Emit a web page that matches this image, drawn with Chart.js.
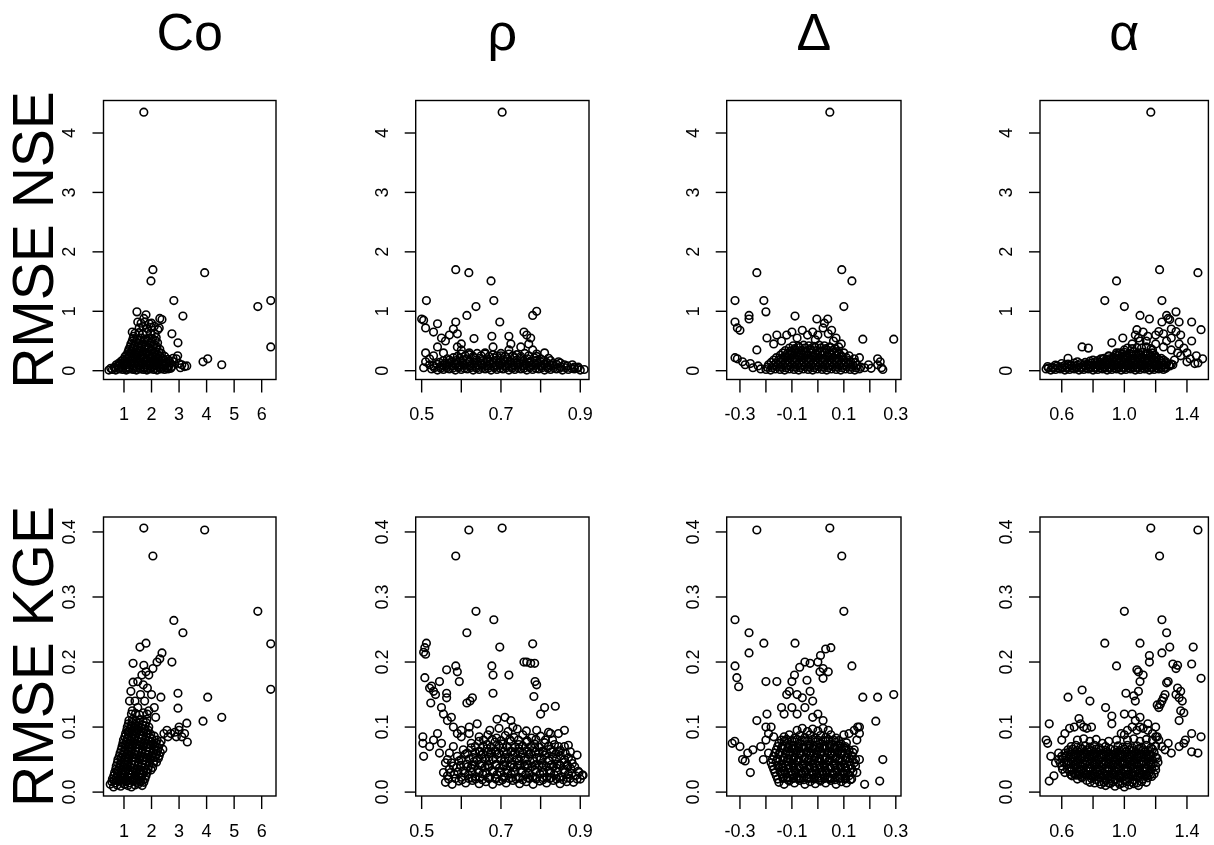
<!DOCTYPE html>
<html>
<head>
<meta charset="utf-8">
<script src="https://cdn.jsdelivr.net/npm/chart.js@4.4.1/dist/chart.umd.min.js"></script>
<style>
  html, body { margin: 0; padding: 0; background: #fff; }
  #wrap { position: relative; width: 1214px; height: 845px; overflow: hidden; }
  #wrap canvas { position: absolute; left: 0; top: 0; }
</style>
</head>
<body>
<div id="wrap"></div>
<script>
// Titles and tick labels
const columnTitles = ['Co', 'ρ', 'Δ', 'α'];
const rowTitles = ['RMSE NSE', 'RMSE KGE'];

const coTicks = [1, 2, 3, 4, 5, 6];
const coLabels = ['1', '2', '3', '4', '5', '6'];
const rhoTicks = [0.5, 0.6, 0.7, 0.8, 0.9];
const rhoLabels = ['0.5', '', '0.7', '', '0.9'];
const deltaTicks = [-0.3, -0.2, -0.1, 0, 0.1, 0.2, 0.3];
const deltaLabels = ['-0.3', '', '-0.1', '', '0.1', '', '0.3'];
const alphaTicks = [0.6, 0.8, 1.0, 1.2, 1.4];
const alphaLabels = ['0.6', '', '1.0', '', '1.4'];
const nseTicks = [0, 1, 2, 3, 4];
const nseLabels = ['0', '1', '2', '3', '4'];
const kgeTicks = [0, 0.1, 0.2, 0.3, 0.4];
const kgeLabels = ['0.0', '0.1', '0.2', '0.3', '0.4'];

// Points: [x, y]
const coNse = [
  [1.72,4.35],[2.05,1.70],[1.98,1.51],[3.93,1.65],[2.81,1.18],[3.14,0.92],[5.86,1.08],[6.33,1.18],[6.33,0.40],
  [2.74,0.62],[2.96,0.47],[3.87,0.15],[4.04,0.20],[4.55,0.10],[3.28,0.08],[3.2,0.07],[3.1,0.1],[2.74,0.07],
  [2.9,0.2],[2.95,0.25],[1.47,0.99],[1.8,0.94],[2.38,0.86],[2.3,0.88],[1.5,0.82],[2.23,0.69],[1.3,0.65],
  [1.35,0.58],[2.0,0.8],[2.1,0.75],[3.0,0.12],[2.8,0.15],[3.05,0.05],
  [0.45,0.01],[0.58,0.02],[0.7,0.01],[0.83,0.03],[0.95,0.02],[1.08,0.01],[1.2,0.03],[1.33,0.02],[1.45,0.01],
  [1.58,0.03],[1.7,0.02],[1.83,0.01],[1.95,0.03],[2.08,0.02],[2.2,0.01],[2.33,0.03],[2.47,0.02],[2.6,0.03],
  [0.52,0.04],[0.66,0.05],[0.8,0.04],[0.93,0.05],[1.06,0.04],[1.2,0.05],[1.33,0.04],[1.47,0.05],[1.6,0.04],
  [1.74,0.05],[1.87,0.04],[2.01,0.05],[2.14,0.04],[2.28,0.05],[2.41,0.04],[2.55,0.05],[2.7,0.04],
  [0.65,0.06],[0.78,0.08],[0.92,0.07],[1.05,0.09],[1.18,0.06],[1.32,0.08],[1.46,0.07],[1.6,0.09],[1.74,0.06],
  [1.88,0.08],[2.02,0.07],[2.16,0.09],[2.3,0.06],[2.45,0.08],[2.62,0.07],
  [0.72,0.1],[0.86,0.11],[0.99,0.1],[1.13,0.11],[1.26,0.1],[1.4,0.11],[1.53,0.1],[1.67,0.11],[1.81,0.1],
  [1.95,0.11],[2.09,0.1],[2.23,0.11],[2.37,0.1],[2.53,0.11],
  [0.82,0.13],[0.96,0.12],[1.1,0.14],[1.24,0.12],[1.38,0.14],[1.52,0.13],[1.66,0.12],[1.8,0.14],[1.94,0.12],
  [2.08,0.14],[2.22,0.13],[2.36,0.12],[2.52,0.14],[2.68,0.13],
  [0.9,0.16],[1.04,0.17],[1.18,0.16],[1.32,0.17],[1.46,0.16],[1.6,0.17],[1.74,0.16],[1.88,0.17],[2.02,0.16],
  [2.16,0.17],[2.3,0.16],[2.46,0.17],[2.64,0.16],
  [0.98,0.19],[1.12,0.21],[1.27,0.2],[1.41,0.22],[1.55,0.19],[1.69,0.21],[1.83,0.2],[1.97,0.22],[2.11,0.19],
  [2.26,0.21],[2.42,0.2],[2.6,0.19],[2.78,0.21],
  [1.04,0.24],[1.18,0.25],[1.32,0.23],[1.46,0.25],[1.6,0.24],[1.74,0.23],[1.88,0.25],[2.02,0.24],[2.16,0.23],
  [2.3,0.25],[2.48,0.24],
  [1.1,0.27],[1.24,0.29],[1.38,0.28],[1.52,0.3],[1.66,0.27],[1.8,0.29],[1.94,0.28],[2.08,0.3],[2.22,0.27],[2.36,0.29],
  [1.15,0.32],[1.29,0.33],[1.43,0.31],[1.57,0.33],[1.71,0.32],[1.85,0.31],[1.99,0.33],[2.13,0.32],[2.27,0.31],
  [1.18,0.36],[1.32,0.37],[1.46,0.35],[1.6,0.38],[1.74,0.36],[1.88,0.37],[2.02,0.35],[2.16,0.38],[2.3,0.36],
  [1.22,0.4],[1.36,0.41],[1.5,0.39],[1.64,0.41],[1.78,0.4],[1.92,0.39],[2.06,0.41],[2.2,0.4],
  [1.25,0.45],[1.39,0.44],[1.53,0.46],[1.67,0.45],[1.81,0.43],[1.95,0.46],[2.09,0.44],[2.22,0.47],
  [1.3,0.5],[1.44,0.49],[1.58,0.51],[1.72,0.49],[1.86,0.5],[2.0,0.49],[2.14,0.51],
  [1.33,0.54],[1.47,0.53],[1.61,0.55],[1.75,0.52],[1.89,0.55],[2.03,0.54],[2.17,0.56],
  [1.4,0.63],[1.54,0.64],[1.68,0.62],[1.82,0.65],[1.96,0.63],[2.12,0.62],
  [1.55,0.72],[1.69,0.74],[1.84,0.71],[1.99,0.73],[2.28,0.72],
  [1.62,0.8],[1.76,0.82],[1.92,0.79],[1.72,0.88]
];

const coKge = [
  [1.72,0.406],[3.93,0.403],[2.05,0.363],[5.86,0.278],[2.81,0.264],[3.14,0.245],[6.33,0.228],[6.33,0.158],
  [2.74,0.2],[2.96,0.152],[2.96,0.129],[4.04,0.146],[3.87,0.109],[4.55,0.115],[3.3,0.077],[3.28,0.106],
  [3.2,0.09],[3.1,0.085],[1.58,0.223],[1.8,0.229],[2.38,0.214],[2.3,0.205],[1.33,0.198],[1.72,0.195],
  [1.8,0.185],[1.9,0.18],[2.05,0.19],[2.2,0.2],[1.33,0.169],[1.5,0.17],[1.7,0.165],[1.6,0.15],[1.75,0.14],
  [1.4,0.14],[2.34,0.146],[2.0,0.15],[1.3,0.125],[1.5,0.13],[1.9,0.125],[2.1,0.13],[2.56,0.095],[2.7,0.09],
  [2.85,0.092],[3.0,0.1],[2.6,0.085],[2.9,0.085],[3.0,0.095],[2.41,0.066],[1.85,0.16],[1.65,0.18],[1.2,0.14],
  [1.25,0.155],[2.15,0.115],[2.45,0.09],
  [0.5,0.012],[0.62,0.008],[0.75,0.011],[0.88,0.009],[1.01,0.012],[1.14,0.01],[1.27,0.008],[1.4,0.011],[1.53,0.013],[1.66,0.01],
  [0.56,0.016],[0.69,0.014],[0.82,0.017],[0.95,0.015],[1.08,0.016],[1.21,0.014],[1.34,0.017],[1.47,0.015],[1.6,0.016],[1.72,0.015],
  [0.635,0.018],[0.765,0.019],[0.895,0.018],[1.025,0.019],[1.155,0.018],[1.285,0.019],[1.415,0.018],[1.545,0.019],[1.675,0.018],
  [0.58,0.02],[0.71,0.022],[0.84,0.019],[0.97,0.021],[1.1,0.018],[1.23,0.022],[1.36,0.02],[1.49,0.019],[1.62,0.022],[1.76,0.02],
  [0.63,0.025],[0.76,0.027],[0.89,0.024],[1.02,0.026],[1.15,0.023],[1.28,0.027],[1.41,0.025],[1.54,0.024],[1.67,0.027],[1.8,0.025],
  [0.66,0.03],[0.79,0.032],[0.92,0.029],[1.05,0.031],[1.18,0.028],[1.31,0.032],[1.44,0.03],[1.57,0.029],[1.7,0.032],[1.84,0.03],
  [0.765,0.033],[0.895,0.033],[1.025,0.033],[1.155,0.033],[1.285,0.033],[1.415,0.033],[1.545,0.033],[1.675,0.033],[1.805,0.033],
  [0.7,0.035],[0.83,0.037],[0.96,0.034],[1.09,0.036],[1.22,0.033],[1.35,0.037],[1.48,0.035],[1.61,0.034],[1.74,0.037],[1.87,0.035],[1.98,0.034],
  [0.72,0.04],[0.85,0.042],[0.98,0.039],[1.11,0.041],[1.24,0.038],[1.37,0.042],[1.5,0.04],[1.63,0.039],[1.76,0.042],[1.9,0.04],[2.04,0.038],
  [0.76,0.045],[0.89,0.047],[1.02,0.044],[1.15,0.046],[1.28,0.043],[1.41,0.047],[1.54,0.045],[1.67,0.044],[1.8,0.047],[1.93,0.045],[2.07,0.044],[2.18,0.046],
  [0.78,0.05],[0.91,0.052],[1.04,0.049],[1.17,0.051],[1.3,0.048],[1.43,0.052],[1.56,0.05],[1.69,0.049],[1.82,0.052],[1.96,0.05],[2.1,0.048],[2.25,0.052],
  [0.895,0.053],[1.025,0.053],[1.155,0.053],[1.285,0.053],[1.415,0.053],[1.545,0.053],[1.675,0.053],[1.805,0.053],[1.935,0.053],[2.065,0.053],
  [0.83,0.055],[0.96,0.057],[1.09,0.054],[1.22,0.056],[1.35,0.053],[1.48,0.057],[1.61,0.055],[1.74,0.054],[1.87,0.057],[2.0,0.055],[2.14,0.054],[2.28,0.056],
  [0.86,0.06],[0.99,0.062],[1.12,0.059],[1.25,0.061],[1.38,0.058],[1.51,0.062],[1.64,0.06],[1.77,0.059],[1.9,0.062],[2.04,0.06],[2.18,0.058],[2.32,0.061],
  [0.9,0.065],[1.03,0.067],[1.16,0.064],[1.29,0.066],[1.42,0.063],[1.55,0.067],[1.68,0.065],[1.81,0.064],[1.94,0.067],[2.08,0.065],[2.22,0.064],
  [0.93,0.07],[1.06,0.072],[1.19,0.069],[1.32,0.071],[1.45,0.068],[1.58,0.072],[1.71,0.07],[1.84,0.069],[1.97,0.072],[2.11,0.07],[2.25,0.068],
  [1.025,0.073],[1.155,0.073],[1.285,0.073],[1.415,0.073],[1.545,0.073],[1.675,0.073],[1.805,0.073],[1.935,0.073],[2.065,0.073],
  [0.96,0.075],[1.09,0.077],[1.22,0.074],[1.35,0.076],[1.48,0.073],[1.61,0.077],[1.74,0.075],[1.87,0.074],[2.0,0.077],[2.16,0.075],[2.3,0.074],
  [0.98,0.08],[1.11,0.082],[1.24,0.079],[1.37,0.081],[1.5,0.078],[1.63,0.082],[1.76,0.08],[1.89,0.079],[2.02,0.082],[2.2,0.08],[2.35,0.078],
  [1.03,0.085],[1.16,0.087],[1.29,0.084],[1.42,0.086],[1.55,0.083],[1.68,0.087],[1.81,0.085],[1.94,0.084],[2.1,0.086],
  [1.06,0.09],[1.19,0.092],[1.32,0.089],[1.45,0.091],[1.58,0.088],[1.71,0.092],[1.84,0.09],[1.97,0.089],
  [1.155,0.093],[1.285,0.093],[1.415,0.093],[1.545,0.093],[1.675,0.093],[1.805,0.093],
  [1.1,0.095],[1.23,0.097],[1.36,0.094],[1.49,0.096],[1.62,0.093],[1.75,0.097],[1.88,0.095],
  [1.12,0.1],[1.25,0.102],[1.38,0.099],[1.51,0.101],[1.64,0.098],[1.77,0.102],[1.9,0.1],
  [1.16,0.105],[1.29,0.107],[1.42,0.104],[1.55,0.106],[1.68,0.103],[1.8,0.107],
  [1.18,0.11],[1.31,0.112],[1.44,0.109],[1.57,0.111],[1.7,0.108],[1.83,0.112],
  [1.27,0.12],[1.42,0.121],[1.56,0.119],[1.7,0.122],[1.84,0.12]
];

const rhoNse = [
  [0.703,4.35],[0.586,1.70],[0.619,1.65],[0.675,1.51],[0.512,1.18],[0.682,1.18],[0.637,1.08],[0.614,0.93],
  [0.697,0.82],[0.79,1.0],[0.78,0.93],[0.5,0.87],[0.505,0.85],[0.54,0.79],[0.586,0.82],[0.51,0.72],[0.53,0.65],
  [0.55,0.55],[0.56,0.5],[0.52,0.2],[0.51,0.15],[0.505,0.05],[0.51,0.3],[0.58,0.7],[0.59,0.62],[0.57,0.6],
  [0.6,0.45],[0.6,0.35],[0.632,0.54],[0.677,0.58],[0.72,0.58],[0.725,0.45],[0.72,0.35],[0.758,0.65],[0.765,0.6],
  [0.775,0.55],[0.77,0.45],[0.75,0.4],[0.78,0.35],[0.59,0.4],[0.62,0.3],[0.66,0.3],[0.68,0.4],[0.7,0.25],
  [0.52,0.1],[0.53,0.25],[0.54,0.4],[0.555,0.3],
  [0.525,0.03],[0.54,0.01],[0.555,0.02],[0.57,0.03],[0.585,0.01],[0.6,0.02],[0.615,0.03],[0.63,0.01],[0.645,0.02],
  [0.66,0.03],[0.675,0.01],[0.69,0.02],[0.705,0.03],[0.72,0.01],[0.735,0.02],[0.75,0.03],[0.765,0.01],[0.78,0.02],
  [0.795,0.03],[0.81,0.01],[0.825,0.02],[0.84,0.03],[0.855,0.01],[0.87,0.02],[0.885,0.03],[0.9,0.01],
  [0.532,0.05],[0.548,0.04],[0.563,0.05],[0.578,0.04],[0.593,0.05],[0.608,0.04],[0.623,0.05],[0.638,0.04],[0.653,0.05],
  [0.668,0.04],[0.683,0.05],[0.698,0.04],[0.713,0.05],[0.728,0.04],[0.743,0.05],[0.758,0.04],[0.773,0.05],[0.788,0.04],
  [0.803,0.05],[0.818,0.04],[0.833,0.05],[0.848,0.04],[0.863,0.05],[0.878,0.04],[0.893,0.04],
  [0.53,0.08],[0.547,0.07],[0.562,0.09],[0.577,0.08],[0.592,0.07],[0.607,0.09],[0.622,0.08],[0.637,0.07],[0.652,0.09],
  [0.667,0.08],[0.682,0.07],[0.697,0.09],[0.712,0.08],[0.727,0.07],[0.742,0.09],[0.757,0.08],[0.772,0.07],[0.787,0.09],
  [0.802,0.08],[0.817,0.07],[0.832,0.09],[0.85,0.07],[0.868,0.08],[0.885,0.06],
  [0.538,0.11],[0.553,0.1],[0.568,0.12],[0.583,0.11],[0.598,0.1],[0.613,0.12],[0.628,0.11],[0.643,0.1],[0.658,0.12],
  [0.673,0.11],[0.688,0.1],[0.703,0.12],[0.718,0.11],[0.733,0.1],[0.748,0.12],[0.763,0.11],[0.778,0.1],[0.793,0.12],
  [0.808,0.11],[0.823,0.1],[0.84,0.11],
  [0.545,0.14],[0.56,0.13],[0.575,0.15],[0.59,0.14],[0.605,0.13],[0.62,0.15],[0.635,0.14],[0.65,0.13],[0.665,0.15],
  [0.68,0.14],[0.695,0.13],[0.71,0.15],[0.725,0.14],[0.74,0.13],[0.755,0.15],[0.77,0.14],[0.785,0.13],[0.8,0.15],
  [0.815,0.14],[0.83,0.12],[0.85,0.13],
  [0.555,0.17],[0.57,0.18],[0.587,0.17],[0.604,0.18],[0.621,0.16],[0.638,0.18],[0.655,0.17],[0.672,0.16],[0.689,0.18],
  [0.706,0.17],[0.723,0.16],[0.74,0.18],[0.757,0.17],[0.774,0.16],[0.791,0.18],[0.808,0.17],[0.825,0.17],
  [0.565,0.2],[0.58,0.22],[0.597,0.21],[0.614,0.2],[0.631,0.22],[0.648,0.21],[0.665,0.2],[0.682,0.22],[0.699,0.21],
  [0.716,0.2],[0.733,0.22],[0.75,0.21],[0.767,0.2],[0.784,0.22],[0.8,0.2],[0.82,0.21],
  [0.59,0.24],[0.61,0.25],[0.63,0.24],[0.65,0.25],[0.67,0.24],[0.69,0.25],[0.71,0.24],[0.73,0.25],[0.75,0.24],[0.77,0.25],[0.79,0.24],
  [0.6,0.28],[0.62,0.27],[0.64,0.29],[0.66,0.28],[0.68,0.27],[0.7,0.29],[0.72,0.28],[0.74,0.27],[0.76,0.29],[0.79,0.28],[0.81,0.3],
  [0.91,0.02],[0.895,0.06],[0.88,0.1],[0.86,0.1],[0.845,0.15]
];

const rhoKge = [
  [0.703,0.406],[0.619,0.403],[0.586,0.363],[0.637,0.278],[0.682,0.265],[0.614,0.245],[0.78,0.228],[0.697,0.223],
  [0.512,0.229],[0.508,0.222],[0.505,0.215],[0.51,0.212],[0.677,0.194],[0.68,0.18],[0.72,0.18],[0.758,0.2],
  [0.765,0.2],[0.775,0.198],[0.785,0.198],[0.786,0.17],[0.79,0.165],[0.783,0.147],[0.68,0.152],[0.81,0.13],
  [0.8,0.12],[0.837,0.132],[0.586,0.194],[0.59,0.185],[0.595,0.17],[0.563,0.188],[0.545,0.17],[0.508,0.176],
  [0.52,0.16],[0.53,0.155],[0.535,0.15],[0.525,0.163],[0.523,0.137],[0.563,0.152],[0.563,0.145],[0.614,0.137],
  [0.622,0.14],[0.628,0.145],[0.55,0.13],[0.555,0.12],[0.565,0.11],[0.575,0.115],[0.58,0.1],[0.6,0.095],[0.62,0.1],
  [0.64,0.105],[0.69,0.112],[0.71,0.115],[0.725,0.11],[0.73,0.1],[0.503,0.085],[0.503,0.075],[0.505,0.055],
  [0.52,0.07],[0.53,0.08],[0.54,0.09],[0.545,0.06],[0.55,0.075],[0.892,0.057],[0.907,0.026],[0.87,0.072],
  [0.845,0.09],[0.86,0.095],[0.82,0.092],[0.83,0.08],
  [0.56,0.015],[0.577,0.012],[0.594,0.017],[0.611,0.014],[0.628,0.018],[0.645,0.013],[0.662,0.016],[0.679,0.012],
  [0.696,0.017],[0.713,0.014],[0.73,0.018],[0.747,0.013],[0.764,0.016],[0.781,0.012],[0.798,0.017],[0.815,0.014],
  [0.832,0.018],[0.849,0.013],[0.866,0.016],[0.883,0.015],[0.9,0.02],
  [0.568,0.02],[0.585,0.021],[0.602,0.019],[0.619,0.021],[0.636,0.02],[0.653,0.019],[0.67,0.021],[0.687,0.02],
  [0.704,0.019],[0.721,0.021],[0.738,0.02],[0.755,0.019],[0.772,0.021],[0.789,0.02],[0.806,0.019],[0.823,0.021],
  [0.84,0.02],[0.857,0.019],[0.874,0.021],[0.892,0.02],
  [0.627,0.022],[0.647,0.022],[0.667,0.022],[0.687,0.022],[0.707,0.022],[0.727,0.022],[0.747,0.022],[0.767,0.022],
  [0.787,0.022],[0.807,0.022],[0.827,0.022],[0.847,0.022],[0.867,0.022],
  [0.565,0.025],[0.582,0.028],[0.6,0.023],[0.618,0.027],[0.636,0.024],[0.654,0.028],[0.672,0.023],[0.69,0.027],
  [0.708,0.024],[0.726,0.028],[0.744,0.023],[0.762,0.027],[0.78,0.024],[0.798,0.028],[0.816,0.023],[0.834,0.027],
  [0.852,0.024],[0.87,0.028],[0.888,0.025],[0.905,0.026],
  [0.573,0.03],[0.591,0.031],[0.609,0.029],[0.627,0.031],[0.645,0.03],[0.663,0.029],[0.681,0.031],[0.699,0.03],
  [0.717,0.029],[0.735,0.031],[0.753,0.03],[0.771,0.029],[0.789,0.031],[0.807,0.03],[0.825,0.029],[0.843,0.031],
  [0.861,0.03],[0.879,0.029],[0.897,0.03],
  [0.57,0.035],[0.588,0.038],[0.606,0.033],[0.624,0.037],[0.642,0.034],[0.66,0.038],[0.678,0.033],[0.696,0.037],
  [0.714,0.034],[0.732,0.038],[0.75,0.033],[0.768,0.037],[0.786,0.034],[0.804,0.038],[0.822,0.033],[0.84,0.037],
  [0.858,0.034],[0.876,0.036],[0.895,0.032],
  [0.58,0.04],[0.598,0.041],[0.616,0.039],[0.634,0.041],[0.652,0.04],[0.67,0.039],[0.688,0.041],[0.706,0.04],
  [0.724,0.039],[0.742,0.041],[0.76,0.04],[0.778,0.039],[0.796,0.041],[0.814,0.04],[0.832,0.039],[0.85,0.041],
  [0.868,0.04],[0.886,0.039],
  [0.627,0.042],[0.647,0.042],[0.667,0.042],[0.687,0.042],[0.707,0.042],[0.727,0.042],[0.747,0.042],[0.767,0.042],
  [0.787,0.042],[0.807,0.042],[0.827,0.042],[0.847,0.042],[0.867,0.042],
  [0.575,0.045],[0.594,0.048],[0.613,0.043],[0.632,0.047],[0.651,0.044],[0.67,0.048],[0.689,0.043],[0.708,0.047],
  [0.727,0.044],[0.746,0.048],[0.765,0.043],[0.784,0.047],[0.803,0.044],[0.822,0.048],[0.841,0.043],[0.86,0.046],[0.88,0.044],
  [0.6,0.05],[0.62,0.051],[0.64,0.049],[0.66,0.051],[0.68,0.05],[0.7,0.049],[0.72,0.051],[0.74,0.05],[0.76,0.049],
  [0.78,0.051],[0.8,0.05],[0.82,0.049],[0.84,0.051],[0.86,0.05],[0.878,0.049],
  [0.59,0.055],[0.61,0.058],[0.63,0.053],[0.65,0.057],[0.67,0.054],[0.69,0.058],[0.71,0.053],[0.73,0.057],
  [0.75,0.054],[0.77,0.058],[0.79,0.053],[0.81,0.057],[0.83,0.054],[0.85,0.056],[0.87,0.053],
  [0.615,0.06],[0.635,0.061],[0.655,0.059],[0.675,0.061],[0.695,0.06],[0.715,0.059],[0.735,0.061],[0.755,0.06],
  [0.775,0.059],[0.795,0.061],[0.815,0.06],[0.838,0.059],[0.862,0.06],
  [0.647,0.062],[0.667,0.062],[0.687,0.062],[0.707,0.062],[0.727,0.062],[0.747,0.062],[0.767,0.062],[0.787,0.062],
  [0.807,0.062],[0.827,0.062],[0.847,0.062],
  [0.605,0.065],[0.625,0.068],[0.645,0.063],[0.665,0.067],[0.685,0.064],[0.705,0.068],[0.725,0.063],[0.745,0.067],
  [0.765,0.064],[0.785,0.068],[0.805,0.063],[0.825,0.066],[0.85,0.064],[0.875,0.062],
  [0.635,0.07],[0.655,0.071],[0.675,0.069],[0.695,0.071],[0.715,0.07],[0.735,0.069],[0.755,0.071],[0.775,0.07],
  [0.797,0.069],[0.82,0.071],[0.845,0.07],
  [0.625,0.075],[0.645,0.078],[0.665,0.073],[0.685,0.077],[0.705,0.074],[0.725,0.078],[0.745,0.073],[0.765,0.077],
  [0.785,0.074],[0.81,0.076],[0.835,0.073],[0.86,0.07],
  [0.656,0.08],[0.678,0.081],[0.7,0.079],[0.722,0.081],[0.744,0.08],[0.766,0.079],[0.788,0.081],[0.812,0.08],
  [0.645,0.085],[0.667,0.088],[0.689,0.083],[0.711,0.087],[0.733,0.084],[0.755,0.088],[0.777,0.083],[0.8,0.086],[0.825,0.09],
  [0.672,0.095],[0.695,0.098],[0.718,0.093],[0.741,0.097],[0.764,0.094],[0.79,0.095],
  [0.56,0.045],[0.565,0.05],[0.555,0.03],[0.57,0.06],[0.58,0.07],[0.6,0.085],[0.59,0.09],[0.62,0.09]
];

const deltaNse = [
  [0.046,4.35],[-0.235,1.65],[0.092,1.70],[0.131,1.51],[-0.319,1.18],[-0.208,1.18],[-0.2,0.99],[0.1,1.08],
  [-0.265,0.93],[-0.265,0.87],[-0.088,0.92],[-0.319,0.82],[-0.31,0.72],[-0.3,0.68],[0.173,0.53],[0.292,0.53],
  [-0.235,0.35],[-0.004,0.87],[0.038,0.87],[0.025,0.8],[0.053,0.68],[-0.196,0.55],[-0.158,0.6],[-0.12,0.6],
  [-0.1,0.65],[-0.08,0.55],[-0.06,0.68],[-0.04,0.6],[-0.02,0.65],[0.0,0.6],[0.06,0.5],[0.08,0.4],[0.1,0.3],
  [0.12,0.25],[0.14,0.2],[0.16,0.22],[-0.319,0.22],[-0.31,0.2],[-0.29,0.15],[-0.28,0.1],[-0.26,0.12],[-0.25,0.05],
  [-0.23,0.08],[-0.22,0.03],[0.23,0.2],[0.24,0.15],[0.245,0.05],[0.25,0.02],[0.23,0.1],[0.18,0.05],[0.07,0.55],
  [0.09,0.45],[-0.14,0.5],[-0.17,0.45],[0.02,0.72],[0.04,0.62],[-0.01,0.52],[0.195,0.1],[0.205,0.04],
  [-0.2,0.02],[-0.182,0.01],[-0.164,0.03],[-0.146,0.02],[-0.128,0.01],[-0.11,0.03],[-0.092,0.02],[-0.074,0.01],
  [-0.056,0.03],[-0.038,0.02],[-0.02,0.01],[-0.002,0.03],[0.016,0.02],[0.034,0.01],[0.052,0.03],[0.07,0.02],
  [0.088,0.01],[0.106,0.03],[0.124,0.02],[0.142,0.01],[0.16,0.03],
  [-0.195,0.06],[-0.177,0.05],[-0.159,0.07],[-0.141,0.06],[-0.123,0.05],[-0.105,0.07],[-0.087,0.06],[-0.069,0.05],
  [-0.051,0.07],[-0.033,0.06],[-0.015,0.05],[0.003,0.07],[0.021,0.06],[0.039,0.05],[0.057,0.07],[0.075,0.06],
  [0.093,0.05],[0.111,0.07],[0.129,0.06],[0.147,0.05],[0.165,0.06],
  [-0.19,0.1],[-0.172,0.09],[-0.154,0.11],[-0.136,0.1],[-0.118,0.09],[-0.1,0.11],[-0.082,0.1],[-0.064,0.09],
  [-0.046,0.11],[-0.028,0.1],[-0.01,0.09],[0.008,0.11],[0.026,0.1],[0.044,0.09],[0.062,0.11],[0.08,0.1],
  [0.098,0.09],[0.116,0.11],[0.134,0.1],[0.152,0.09],
  [-0.18,0.14],[-0.162,0.13],[-0.144,0.15],[-0.126,0.14],[-0.108,0.13],[-0.09,0.15],[-0.072,0.14],[-0.054,0.13],
  [-0.036,0.15],[-0.018,0.14],[0.0,0.13],[0.018,0.15],[0.036,0.14],[0.054,0.13],[0.072,0.15],[0.09,0.14],
  [0.108,0.13],[0.126,0.15],[0.144,0.14],
  [-0.17,0.18],[-0.152,0.17],[-0.134,0.19],[-0.116,0.18],[-0.098,0.17],[-0.08,0.19],[-0.062,0.18],[-0.044,0.17],
  [-0.026,0.19],[-0.008,0.18],[0.01,0.17],[0.028,0.19],[0.046,0.18],[0.064,0.17],[0.082,0.19],[0.1,0.18],[0.118,0.17],
  [-0.16,0.22],[-0.142,0.21],[-0.124,0.23],[-0.106,0.22],[-0.088,0.21],[-0.07,0.23],[-0.052,0.22],[-0.034,0.21],
  [-0.016,0.23],[0.002,0.22],[0.02,0.21],[0.038,0.23],[0.056,0.22],[0.074,0.21],[0.092,0.23],[0.11,0.22],
  [-0.145,0.26],[-0.127,0.25],[-0.109,0.27],[-0.091,0.26],[-0.073,0.25],[-0.055,0.27],[-0.037,0.26],[-0.019,0.25],
  [-0.001,0.27],[0.017,0.26],[0.035,0.25],[0.053,0.27],[0.071,0.26],[0.09,0.25],
  [-0.135,0.3],[-0.117,0.29],[-0.099,0.31],[-0.081,0.3],[-0.063,0.29],[-0.045,0.31],[-0.027,0.3],[-0.009,0.29],
  [0.009,0.31],[0.027,0.3],[0.045,0.29],[0.063,0.31],[0.081,0.3],
  [-0.125,0.34],[-0.105,0.33],[-0.085,0.35],[-0.065,0.34],[-0.045,0.33],[-0.025,0.35],[-0.005,0.34],[0.015,0.33],
  [0.035,0.35],[0.055,0.34],[0.075,0.32],
  [-0.11,0.38],[-0.09,0.37],[-0.07,0.39],[-0.05,0.38],[-0.03,0.37],[-0.01,0.39],[0.01,0.38],[0.03,0.37],[0.05,0.39],[0.065,0.37],
  [-0.095,0.42],[-0.075,0.41],[-0.055,0.43],[-0.035,0.42],[-0.015,0.41],[0.005,0.43],[0.025,0.42],[0.045,0.4]
];

const deltaKge = [
  [-0.235,0.403],[0.046,0.406],[0.092,0.363],[0.1,0.278],[-0.319,0.265],[-0.265,0.245],[-0.208,0.229],
  [-0.088,0.229],[-0.265,0.214],[-0.319,0.194],[0.131,0.194],[-0.312,0.176],[-0.305,0.162],[-0.2,0.17],
  [-0.158,0.17],[-0.235,0.11],[-0.196,0.12],[0.173,0.146],[0.23,0.146],[0.292,0.15],[0.223,0.109],[0.25,0.05],
  [0.238,0.017],[0.18,0.012],[0.153,0.1],[0.14,0.095],[0.16,0.09],
  [-0.07,0.192],[-0.05,0.2],[-0.03,0.198],[0.0,0.2],[0.01,0.21],[0.03,0.22],[0.05,0.222],[0.008,0.185],
  [0.02,0.19],[0.04,0.185],[0.02,0.175],[-0.09,0.18],[-0.1,0.17],[-0.12,0.15],[-0.11,0.155],[-0.08,0.15],
  [-0.06,0.145],[-0.042,0.172],[-0.03,0.155],[-0.02,0.14],[-0.05,0.13],[-0.1,0.13],[-0.14,0.13],[-0.13,0.12],
  [-0.08,0.12],[-0.02,0.115],[0.0,0.12],[0.02,0.11],
  [-0.33,0.075],[-0.32,0.078],[-0.3,0.07],[-0.29,0.05],[-0.28,0.048],[-0.27,0.06],[-0.25,0.065],[-0.26,0.03],
  [-0.22,0.07],[-0.2,0.08],[-0.21,0.05],[-0.19,0.06],
  [-0.15,0.015],[-0.13,0.012],[-0.11,0.017],[-0.09,0.014],[-0.07,0.018],[-0.05,0.012],[-0.03,0.016],[-0.01,0.013],
  [0.01,0.017],[0.03,0.014],[0.05,0.018],[0.07,0.012],[0.09,0.016],[0.11,0.014],
  [-0.155,0.02],[-0.135,0.021],[-0.115,0.019],[-0.095,0.021],[-0.075,0.02],[-0.055,0.019],[-0.035,0.021],[-0.015,0.02],
  [0.005,0.019],[0.025,0.021],[0.045,0.02],[0.065,0.019],[0.085,0.021],[0.105,0.02],[0.125,0.019],
  [-0.133,0.022],[-0.113,0.022],[-0.093,0.022],[-0.073,0.022],[-0.053,0.022],[-0.033,0.022],[-0.013,0.022],
  [0.007,0.022],[0.027,0.022],[0.047,0.022],[0.067,0.022],[0.087,0.022],[0.107,0.022],
  [-0.16,0.025],[-0.14,0.028],[-0.12,0.023],[-0.1,0.027],[-0.08,0.024],[-0.06,0.028],[-0.04,0.023],[-0.02,0.027],
  [0.0,0.024],[0.02,0.028],[0.04,0.023],[0.06,0.027],[0.08,0.024],[0.1,0.028],[0.12,0.025],
  [-0.165,0.03],[-0.145,0.031],[-0.125,0.029],[-0.105,0.031],[-0.085,0.03],[-0.065,0.029],[-0.045,0.031],[-0.025,0.03],
  [-0.005,0.029],[0.015,0.031],[0.035,0.03],[0.055,0.029],[0.075,0.031],[0.095,0.03],[0.115,0.029],[0.135,0.031],
  [-0.17,0.035],[-0.15,0.038],[-0.13,0.033],[-0.11,0.037],[-0.09,0.034],[-0.07,0.038],[-0.05,0.033],[-0.03,0.037],
  [-0.01,0.034],[0.01,0.038],[0.03,0.033],[0.05,0.037],[0.07,0.034],[0.09,0.038],[0.11,0.033],[0.13,0.036],
  [-0.133,0.037],[-0.113,0.037],[-0.093,0.037],[-0.073,0.037],[-0.053,0.037],[-0.033,0.037],[-0.013,0.037],
  [0.007,0.037],[0.027,0.037],[0.047,0.037],[0.067,0.037],[0.087,0.037],[0.107,0.037],
  [-0.175,0.04],[-0.155,0.041],[-0.135,0.039],[-0.115,0.041],[-0.095,0.04],[-0.075,0.039],[-0.055,0.041],[-0.035,0.04],
  [-0.015,0.039],[0.005,0.041],[0.025,0.04],[0.045,0.039],[0.065,0.041],[0.085,0.04],[0.105,0.039],[0.125,0.041],[0.145,0.04],
  [-0.18,0.045],[-0.16,0.048],[-0.14,0.043],[-0.12,0.047],[-0.1,0.044],[-0.08,0.048],[-0.06,0.043],[-0.04,0.047],
  [-0.02,0.044],[0.0,0.048],[0.02,0.043],[0.04,0.047],[0.06,0.044],[0.08,0.048],[0.1,0.043],[0.12,0.047],[0.14,0.045],
  [-0.175,0.05],[-0.155,0.051],[-0.135,0.049],[-0.115,0.051],[-0.095,0.05],[-0.075,0.049],[-0.055,0.051],[-0.035,0.05],
  [-0.015,0.049],[0.005,0.051],[0.025,0.05],[0.045,0.049],[0.065,0.051],[0.085,0.05],[0.105,0.049],[0.125,0.051],[0.145,0.05],
  [-0.133,0.052],[-0.113,0.052],[-0.093,0.052],[-0.073,0.052],[-0.053,0.052],[-0.033,0.052],[-0.013,0.052],
  [0.007,0.052],[0.027,0.052],[0.047,0.052],[0.067,0.052],[0.087,0.052],[0.107,0.052],
  [-0.17,0.055],[-0.15,0.058],[-0.13,0.053],[-0.11,0.057],[-0.09,0.054],[-0.07,0.058],[-0.05,0.053],[-0.03,0.057],
  [-0.01,0.054],[0.01,0.058],[0.03,0.053],[0.05,0.057],[0.07,0.054],[0.09,0.058],[0.11,0.053],[0.13,0.056],
  [-0.165,0.06],[-0.145,0.061],[-0.125,0.059],[-0.105,0.061],[-0.085,0.06],[-0.065,0.059],[-0.045,0.061],[-0.025,0.06],
  [-0.005,0.059],[0.015,0.061],[0.035,0.06],[0.055,0.059],[0.075,0.061],[0.095,0.06],[0.115,0.059],[0.135,0.061],
  [-0.16,0.065],[-0.14,0.068],[-0.12,0.063],[-0.1,0.067],[-0.08,0.064],[-0.06,0.068],[-0.04,0.063],[-0.02,0.067],
  [0.0,0.064],[0.02,0.068],[0.04,0.063],[0.06,0.067],[0.08,0.064],[0.1,0.068],[0.12,0.065],
  [-0.133,0.067],[-0.113,0.067],[-0.093,0.067],[-0.073,0.067],[-0.053,0.067],[-0.033,0.067],[-0.013,0.067],
  [0.007,0.067],[0.027,0.067],[0.047,0.067],[0.067,0.067],[0.087,0.067],[0.107,0.067],
  [-0.155,0.07],[-0.135,0.071],[-0.115,0.069],[-0.095,0.071],[-0.075,0.07],[-0.055,0.069],[-0.035,0.071],[-0.015,0.07],
  [0.005,0.069],[0.025,0.071],[0.045,0.07],[0.065,0.069],[0.085,0.071],[0.105,0.07],
  [-0.15,0.075],[-0.13,0.078],[-0.11,0.073],[-0.09,0.077],[-0.07,0.074],[-0.05,0.078],[-0.03,0.073],[-0.01,0.077],
  [0.01,0.074],[0.03,0.078],[0.05,0.073],[0.07,0.077],[0.09,0.074],[0.11,0.076],
  [-0.14,0.08],[-0.12,0.081],[-0.1,0.079],[-0.08,0.081],[-0.06,0.08],[-0.04,0.079],[-0.02,0.081],[0.0,0.08],
  [0.02,0.079],[0.04,0.081],[0.06,0.08],[0.08,0.079],
  [-0.13,0.085],[-0.11,0.088],[-0.09,0.083],[-0.07,0.087],[-0.05,0.084],[-0.03,0.088],[-0.01,0.083],[0.01,0.087],
  [0.03,0.084],[0.05,0.088],[0.07,0.083],
  [-0.08,0.095],[-0.06,0.098],[-0.04,0.093],[-0.02,0.097],[0.0,0.094],[0.02,0.098],[0.04,0.095],
  [0.14,0.065],[0.15,0.08],[0.16,0.1],[0.12,0.09],[0.1,0.088],[0.15,0.03],[0.16,0.05],[0.13,0.02],
  [-0.19,0.09],[-0.2,0.1],[-0.18,0.1],[-0.17,0.085]
];

const alphaNse = [
  [1.169,4.35],[1.225,1.70],[1.47,1.65],[0.95,1.51],[0.875,1.18],[1.24,1.18],[1.0,1.08],[1.33,0.99],[1.27,0.93],
  [1.28,0.88],[1.29,0.86],[1.1,0.93],[1.16,0.87],[1.24,0.82],[1.35,0.82],[1.43,0.82],[1.49,0.69],[1.43,0.5],
  [0.73,0.4],[0.77,0.38],[0.64,0.21],[0.99,0.55],[0.92,0.47],[1.08,0.69],[1.07,0.6],[1.09,0.55],[1.1,0.5],
  [1.05,0.45],[1.12,0.65],[1.15,0.58],[1.14,0.5],[1.2,0.6],[1.22,0.66],[1.25,0.62],[1.3,0.7],[1.33,0.66],
  [1.36,0.6],[1.3,0.55],[1.27,0.5],[1.35,0.45],[1.38,0.38],[1.4,0.3],[1.36,0.25],[1.42,0.2],[1.45,0.12],
  [1.47,0.13],[1.5,0.2],[1.46,0.25],[1.4,0.15],[1.32,0.18],[1.34,0.3],[1.3,0.35],[1.25,0.4],[1.2,0.45],
  [1.18,0.35],[0.95,0.3],[0.9,0.25],[1.0,0.35],[1.02,0.25],[0.85,0.2],
  [0.5,0.03],[0.53,0.01],[0.56,0.02],[0.59,0.03],[0.62,0.01],[0.65,0.02],[0.68,0.03],[0.71,0.01],[0.74,0.02],
  [0.77,0.03],[0.8,0.01],[0.83,0.02],[0.86,0.03],[0.89,0.01],[0.92,0.02],[0.95,0.03],[0.98,0.01],[1.01,0.02],
  [1.04,0.03],[1.07,0.01],[1.1,0.02],[1.13,0.03],[1.16,0.01],[1.19,0.02],[1.22,0.03],[1.25,0.02],
  [0.515,0.045],[0.545,0.04],[0.575,0.05],[0.605,0.045],[0.635,0.04],[0.665,0.05],[0.695,0.045],[0.725,0.04],
  [0.755,0.05],[0.785,0.045],[0.815,0.04],[0.845,0.05],[0.875,0.045],[0.905,0.04],[0.935,0.05],[0.965,0.045],
  [0.995,0.04],[1.025,0.05],[1.055,0.045],[1.085,0.04],[1.115,0.05],[1.145,0.045],[1.175,0.04],[1.205,0.05],
  [1.235,0.045],[1.265,0.04],
  [0.51,0.07],[0.54,0.06],[0.57,0.08],[0.6,0.07],[0.63,0.06],[0.66,0.08],[0.69,0.07],[0.72,0.06],[0.75,0.08],
  [0.78,0.07],[0.81,0.06],[0.84,0.08],[0.87,0.07],[0.9,0.06],[0.93,0.08],[0.96,0.07],[0.99,0.06],[1.02,0.08],
  [1.05,0.07],[1.08,0.06],[1.11,0.08],[1.14,0.07],[1.17,0.06],[1.2,0.08],[1.23,0.07],[1.26,0.06],[1.29,0.08],
  [0.56,0.095],[0.62,0.09],[0.66,0.1],[0.7,0.095],[0.74,0.09],[0.775,0.1],[0.805,0.095],[0.835,0.09],[0.865,0.1],
  [0.895,0.095],[0.925,0.09],[0.955,0.1],[0.985,0.095],[1.015,0.09],[1.045,0.1],[1.075,0.095],[1.105,0.09],
  [1.135,0.1],[1.165,0.095],[1.195,0.09],[1.225,0.1],[1.255,0.095],[1.285,0.09],[1.31,0.1],
  [0.6,0.12],[0.64,0.11],[0.68,0.13],[0.72,0.12],[0.76,0.11],[0.79,0.13],[0.82,0.12],[0.85,0.11],[0.88,0.13],
  [0.91,0.12],[0.94,0.11],[0.97,0.13],[1.0,0.12],[1.03,0.11],[1.06,0.13],[1.09,0.12],[1.12,0.11],[1.15,0.13],
  [1.18,0.12],[1.21,0.11],[1.24,0.13],[1.27,0.12],[1.3,0.11],
  [0.7,0.15],[0.75,0.14],[0.78,0.16],[0.815,0.15],[0.845,0.14],[0.875,0.16],[0.905,0.15],[0.935,0.14],[0.965,0.16],
  [0.995,0.15],[1.025,0.14],[1.055,0.16],[1.085,0.15],[1.115,0.14],[1.145,0.16],[1.175,0.15],[1.205,0.14],
  [1.235,0.16],[1.265,0.15],
  [0.8,0.18],[0.83,0.17],[0.86,0.19],[0.89,0.18],[0.92,0.17],[0.95,0.19],[0.98,0.18],[1.01,0.17],[1.04,0.19],
  [1.07,0.18],[1.1,0.17],[1.13,0.19],[1.16,0.18],[1.19,0.17],[1.22,0.19],[1.25,0.18],
  [0.87,0.21],[0.905,0.2],[0.935,0.22],[0.965,0.21],[0.995,0.2],[1.025,0.22],[1.055,0.21],[1.085,0.2],[1.115,0.22],
  [1.145,0.21],[1.175,0.2],[1.205,0.22],[1.235,0.21],
  [0.9,0.24],[0.93,0.23],[0.96,0.25],[0.99,0.24],[1.02,0.23],[1.05,0.25],[1.08,0.24],[1.11,0.23],[1.14,0.25],
  [1.17,0.24],[1.2,0.23],
  [0.95,0.27],[0.985,0.28],[1.015,0.26],[1.045,0.28],[1.075,0.27],[1.105,0.26],[1.135,0.28],[1.165,0.27],[1.195,0.26],
  [0.97,0.3],[1.0,0.31],[1.03,0.29],[1.06,0.32],[1.09,0.3],[1.12,0.31],[1.15,0.29],[1.18,0.3],
  [1.02,0.38],[1.05,0.37],[1.08,0.39],[1.11,0.38],[1.14,0.4],[1.17,0.37]
];

const alphaKge = [
  [1.169,0.406],[1.47,0.403],[1.225,0.363],[1.0,0.278],[1.24,0.265],[1.27,0.245],[0.875,0.229],[1.1,0.229],
  [1.24,0.214],[1.29,0.223],[1.44,0.223],[1.16,0.21],[1.16,0.2],[0.95,0.194],[1.31,0.197],[1.33,0.19],
  [1.34,0.195],[1.43,0.197],[1.49,0.175],[1.08,0.188],[1.09,0.185],[1.1,0.17],[1.12,0.18],[1.27,0.168],
  [1.28,0.17],[1.34,0.16],[1.33,0.15],[1.35,0.145],[1.36,0.155],[1.37,0.14],[1.36,0.125],[1.35,0.11],
  [1.38,0.122],[0.64,0.146],[0.73,0.157],[0.78,0.14],[1.01,0.152],[1.06,0.148],[1.07,0.14],[1.09,0.155],
  [0.88,0.13],[0.92,0.117],[0.92,0.105],[1.0,0.12],[1.05,0.12],[1.07,0.11],[1.1,0.115],[1.15,0.105],[1.2,0.1],
  [1.22,0.13],[1.23,0.135],[1.24,0.14],[1.25,0.145],[1.26,0.15],[1.21,0.134],[1.43,0.09],[1.49,0.085],
  [1.43,0.062],[1.47,0.06],[1.39,0.08],[1.38,0.075],[1.35,0.07],[1.3,0.06],[1.28,0.075],[1.26,0.065],
  [0.52,0.105],[0.5,0.08],[0.51,0.075],[0.53,0.055],[0.52,0.017],[0.55,0.025],[0.56,0.045],[0.58,0.06],
  [0.6,0.08],[0.62,0.09],[0.65,0.098],[0.68,0.1],[0.71,0.113],[0.72,0.105],[0.74,0.1],[0.76,0.098],[0.79,0.1],
  [0.86,0.075],[0.88,0.07],[0.9,0.078],[0.95,0.08],[0.98,0.09],[1.0,0.088],[1.02,0.095],[1.05,0.1],[1.08,0.095],
  [1.1,0.1],[1.12,0.098],[1.15,0.095],[1.18,0.09],[1.2,0.085],[1.22,0.08],[1.24,0.07],
  [0.85,0.012],[0.88,0.01],[0.91,0.013],[0.94,0.009],[0.97,0.012],[1.0,0.008],[1.03,0.011],[1.06,0.013],[1.09,0.01],
  [0.78,0.015],[0.81,0.014],[0.84,0.016],[0.87,0.015],[0.9,0.014],[0.93,0.016],[0.96,0.015],[0.99,0.014],
  [1.02,0.016],[1.05,0.015],[1.08,0.014],[1.11,0.016],[1.14,0.015],
  [0.7,0.02],[0.73,0.022],[0.76,0.018],[0.79,0.021],[0.82,0.019],[0.85,0.022],[0.88,0.018],[0.91,0.021],
  [0.94,0.019],[0.97,0.022],[1.0,0.018],[1.03,0.021],[1.06,0.019],[1.09,0.022],[1.12,0.02],[1.15,0.022],
  [0.665,0.025],[0.695,0.026],[0.725,0.024],[0.755,0.026],[0.785,0.025],[0.815,0.024],[0.845,0.026],[0.875,0.025],
  [0.905,0.024],[0.935,0.026],[0.965,0.025],[0.995,0.024],[1.025,0.026],[1.055,0.025],[1.085,0.024],[1.115,0.026],
  [1.145,0.025],[1.175,0.024],
  [0.657,0.027],[0.687,0.027],[0.717,0.027],[0.747,0.027],[0.777,0.027],[0.807,0.027],[0.837,0.027],[0.867,0.027],
  [0.897,0.027],[0.927,0.027],[0.957,0.027],[0.987,0.027],[1.017,0.027],[1.047,0.027],[1.077,0.027],[1.107,0.027],
  [1.137,0.027],[1.167,0.027],
  [0.62,0.03],[0.65,0.032],[0.68,0.028],[0.71,0.031],[0.74,0.029],[0.77,0.032],[0.8,0.028],[0.83,0.031],
  [0.86,0.029],[0.89,0.032],[0.92,0.028],[0.95,0.031],[0.98,0.029],[1.01,0.032],[1.04,0.028],[1.07,0.031],
  [1.1,0.029],[1.13,0.032],[1.16,0.03],[1.19,0.028],
  [0.605,0.035],[0.635,0.036],[0.665,0.034],[0.695,0.036],[0.725,0.035],[0.755,0.034],[0.785,0.036],[0.815,0.035],
  [0.845,0.034],[0.875,0.036],[0.905,0.035],[0.935,0.034],[0.965,0.036],[0.995,0.035],[1.025,0.034],[1.055,0.036],
  [1.085,0.035],[1.115,0.034],[1.145,0.036],[1.175,0.035],[1.2,0.034],
  [0.6,0.04],[0.63,0.042],[0.66,0.038],[0.69,0.041],[0.72,0.039],[0.75,0.042],[0.78,0.038],[0.81,0.041],
  [0.84,0.039],[0.87,0.042],[0.9,0.038],[0.93,0.041],[0.96,0.039],[0.99,0.042],[1.02,0.038],[1.05,0.041],
  [1.08,0.039],[1.11,0.042],[1.14,0.038],[1.17,0.041],[1.2,0.04],
  [0.657,0.043],[0.687,0.043],[0.717,0.043],[0.747,0.043],[0.777,0.043],[0.807,0.043],[0.837,0.043],[0.867,0.043],
  [0.897,0.043],[0.927,0.043],[0.957,0.043],[0.987,0.043],[1.017,0.043],[1.047,0.043],[1.077,0.043],[1.107,0.043],
  [1.137,0.043],[1.167,0.043],
  [0.59,0.045],[0.615,0.046],[0.645,0.044],[0.675,0.046],[0.705,0.045],[0.735,0.044],[0.765,0.046],[0.795,0.045],
  [0.825,0.044],[0.855,0.046],[0.885,0.045],[0.915,0.044],[0.945,0.046],[0.975,0.045],[1.005,0.044],[1.035,0.046],
  [1.065,0.045],[1.095,0.044],[1.125,0.046],[1.155,0.045],[1.185,0.044],[1.215,0.046],
  [0.58,0.05],[0.61,0.052],[0.64,0.048],[0.67,0.051],[0.7,0.049],[0.73,0.052],[0.76,0.048],[0.79,0.051],
  [0.82,0.049],[0.85,0.052],[0.88,0.048],[0.91,0.051],[0.94,0.049],[0.97,0.052],[1.0,0.048],[1.03,0.051],
  [1.06,0.049],[1.09,0.052],[1.12,0.048],[1.15,0.051],[1.18,0.049],[1.21,0.052],
  [0.6,0.055],[0.63,0.056],[0.66,0.054],[0.69,0.056],[0.72,0.055],[0.75,0.054],[0.78,0.056],[0.81,0.055],
  [0.84,0.054],[0.87,0.056],[0.9,0.055],[0.93,0.054],[0.96,0.056],[0.99,0.055],[1.02,0.054],[1.05,0.056],
  [1.08,0.055],[1.11,0.054],[1.14,0.056],[1.17,0.055],[1.2,0.054],
  [0.657,0.058],[0.687,0.058],[0.717,0.058],[0.747,0.058],[0.777,0.058],[0.807,0.058],[0.837,0.058],[0.867,0.058],
  [0.897,0.058],[0.927,0.058],[0.957,0.058],[0.987,0.058],[1.017,0.058],[1.047,0.058],[1.077,0.058],[1.107,0.058],
  [1.137,0.058],[1.167,0.058],
  [0.62,0.06],[0.65,0.062],[0.68,0.058],[0.71,0.061],[0.74,0.059],[0.77,0.062],[0.8,0.058],[0.83,0.061],
  [0.86,0.059],[0.89,0.062],[0.92,0.058],[0.95,0.061],[0.98,0.059],[1.01,0.062],[1.04,0.058],[1.07,0.061],
  [1.1,0.059],[1.13,0.062],[1.16,0.058],[1.19,0.061],
  [0.64,0.065],[0.67,0.066],[0.7,0.064],[0.73,0.066],[0.76,0.065],[0.79,0.064],[0.82,0.066],[0.85,0.065],
  [0.88,0.064],[0.91,0.066],[0.94,0.065],[0.97,0.064],[1.0,0.066],[1.03,0.065],[1.06,0.064],[1.09,0.066],
  [1.12,0.065],[1.15,0.064],[1.18,0.066],
  [0.66,0.07],[0.69,0.072],[0.72,0.068],[0.75,0.071],[0.78,0.069],[0.81,0.072],[0.84,0.068],[0.96,0.071],
  [0.99,0.069],[1.02,0.072],[1.05,0.068],[1.08,0.071],[1.11,0.069],[1.14,0.072],[1.17,0.068],[1.2,0.071],
  [0.7,0.08],[0.74,0.082],[0.78,0.078],[0.82,0.081],[1.02,0.08],[1.06,0.082],[1.1,0.078],[1.14,0.081],[1.18,0.08],[1.21,0.085]
];

// Panel layout (page pixels) and axis ranges
const W = 1214, H = 845;
const columns = [
  { left: 103.5, right: 276, min: 0.256, max: 6.52, ticks: coTicks, labels: coLabels },
  { left: 415.7, right: 589, min: 0.485, max: 0.922, ticks: rhoTicks, labels: rhoLabels },
  { left: 726.7, right: 901, min: -0.351, max: 0.320, ticks: deltaTicks, labels: deltaLabels },
  { left: 1040, right: 1213, min: 0.461, max: 1.537, ticks: alphaTicks, labels: alphaLabels }
];
const rows = [
  { top: 100.5, bottom: 379.5, min: -0.148, max: 4.547, ticks: nseTicks, labels: nseLabels },
  { top: 517, bottom: 796, min: -0.006, max: 0.423, ticks: kgeTicks, labels: kgeLabels }
];
const panels = [
  [coNse, rhoNse, deltaNse, alphaNse],
  [coKge, rhoKge, deltaKge, alphaKge]
];

const FONT = '"Liberation Sans", Arial, Helvetica, sans-serif';

// Draws R-style box, ticks, labels and titles
const rAxes = {
  id: 'rAxes',
  afterDraw(chart, args, opts) {
    const ctx = chart.ctx;
    const a = chart.chartArea;
    const xs = chart.scales.x, ys = chart.scales.y;
    ctx.save();
    ctx.strokeStyle = '#000';
    ctx.fillStyle = '#000';
    ctx.lineWidth = 1.4;
    ctx.strokeRect(a.left, a.top, a.right - a.left, a.bottom - a.top);

    ctx.font = '18px ' + FONT;
    ctx.textAlign = 'center';
    ctx.textBaseline = 'middle';
    opts.xTicks.forEach((v, i) => {
      const px = xs.getPixelForValue(v);
      ctx.beginPath();
      ctx.moveTo(px, a.bottom);
      ctx.lineTo(px, a.bottom + 13);
      ctx.stroke();
      if (opts.xLabels[i]) ctx.fillText(opts.xLabels[i], px, a.bottom + 36);
    });
    opts.yTicks.forEach((v, i) => {
      const py = ys.getPixelForValue(v);
      ctx.beginPath();
      ctx.moveTo(a.left - 11, py);
      ctx.lineTo(a.left, py);
      ctx.stroke();
      if (opts.yLabels[i]) {
        ctx.save();
        ctx.translate(a.left - 33, py);
        ctx.rotate(-Math.PI / 2);
        ctx.fillText(opts.yLabels[i], 0, 0);
        ctx.restore();
      }
    });

    ctx.textBaseline = 'alphabetic';
    if (opts.title) {
      ctx.font = '52px ' + FONT;
      ctx.fillText(opts.title, (a.left + a.right) / 2, 50);
    }
    if (opts.rowTitle) {
      ctx.save();
      ctx.font = '57px ' + FONT;
      ctx.translate(53, (a.top + a.bottom) / 2);
      ctx.rotate(-Math.PI / 2);
      ctx.fillText(opts.rowTitle, 0, 0);
      ctx.restore();
    }
    ctx.restore();
  }
};

const wrap = document.getElementById('wrap');

rows.forEach((row, r) => {
  columns.forEach((col, c) => {
    const canvas = document.createElement('canvas');
    canvas.width = W;
    canvas.height = H;
    wrap.appendChild(canvas);
    const pts = panels[r][c];
    new Chart(canvas, {
      type: 'scatter',
      data: {
        datasets: [{
          data: pts.map(p => ({ x: p[0], y: p[1] })),
          pointStyle: 'circle',
          pointRadius: 3.8,
          pointBorderWidth: 1.6,
          borderColor: '#000',
          backgroundColor: 'rgba(0,0,0,0)',
          clip: false
        }]
      },
      options: {
        responsive: false,
        animation: false,
        events: [],
        layout: {
          padding: { left: col.left, right: W - col.right, top: row.top, bottom: H - row.bottom }
        },
        scales: {
          x: { type: 'linear', display: false, min: col.min, max: col.max },
          y: { type: 'linear', display: false, min: row.min, max: row.max }
        },
        plugins: {
          legend: { display: false },
          tooltip: { enabled: false },
          rAxes: {
            xTicks: col.ticks, xLabels: col.labels,
            yTicks: row.ticks, yLabels: row.labels,
            title: r === 0 ? columnTitles[c] : '',
            rowTitle: c === 0 ? rowTitles[r] : ''
          }
        }
      },
      plugins: [rAxes]
    });
  });
});
</script>
</body>
</html>
